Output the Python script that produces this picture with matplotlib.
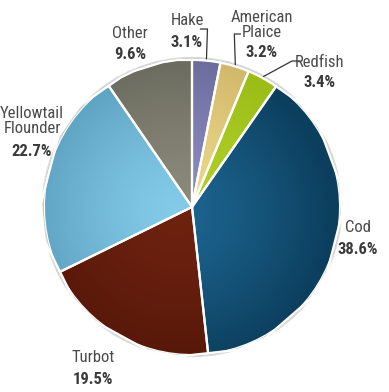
import numpy as np
import matplotlib
matplotlib.use("Agg")
import matplotlib.pyplot as plt
from matplotlib.colors import to_rgb
from matplotlib.patches import Circle

plt.rcParams['font.family'] = ['Roboto Condensed', 'DejaVu Sans']

# data, clockwise from 12 o'clock
species = ['Hake', 'American\nPlaice', 'Redfish', 'Cod', 'Turbot',
           'Yellowtail\nFlounder', 'Other']
shares = [3.1, 3.2, 3.4, 38.6, 19.5, 22.7, 9.6]

# gradient colours: (centre, edge)
inner_cols = ['#8e8ec4', '#eedb8e', '#b2d22a', '#1d6590', '#6e2210', '#84cbea', '#8c8b7d']
outer_cols = ['#6c6c9c', '#d2b86a', '#9cbc18', '#0c3f5e', '#551709', '#5b9fbe', '#6a6a5e']

# label layout in image pixels (x, y of name line, y of percent)
label_pos = {
    'Hake': (187, 20, 42),
    'American\nPlaice': (262, 25, 52),
    'Redfish': (320, 62, 82),
    'Cod': (358, 227, 249),
    'Turbot': (93, 358, 380),
    'Yellowtail\nFlounder': (32, 121, 151),
    'Other': (130, 33, 54),
}

W, H = 389, 392
cx, cy, R = 192, H - 207, 147

fig = plt.figure(figsize=(W / 100, H / 100), dpi=100)
ax = fig.add_axes([0, 0, 1, 1])

# soft shadow ring
ax.add_patch(Circle((cx, cy), R + 2.5, color='#dcdcdc', zorder=0))
ax.add_patch(Circle((cx, cy), R + 1.2, color='#c8c8c8', zorder=0))

wedges, _ = ax.pie(shares, startangle=90, counterclock=False, center=(cx, cy),
                   radius=R, colors=outer_cols,
                   wedgeprops=dict(edgecolor='white', linewidth=1.6))

# radial gradient in each wedge
n = 300
xs = np.linspace(cx - R, cx + R, n)
ys = np.linspace(cy - R, cy + R, n)
XX, YY = np.meshgrid(xs, ys)
gx, gy = cx - 15, cy - 5
t = np.clip(np.hypot(XX - gx, YY - gy) / (R * 1.05), 0, 1) ** 1.3
for w, ci, co in zip(wedges, inner_cols, outer_cols):
    a, b = np.array(to_rgb(ci)), np.array(to_rgb(co))
    img = a[None, None, :] * (1 - t[..., None]) + b[None, None, :] * t[..., None]
    im = ax.imshow(img, extent=(cx - R, cx + R, cy - R, cy + R), origin='lower',
                   zorder=w.get_zorder() + 0.1, interpolation='bilinear')
    im.set_clip_path(w)
    edge = plt.Polygon(w.get_path().vertices, closed=True, fill=False,
                       edgecolor='white', linewidth=1.6,
                       transform=w.get_transform(), zorder=w.get_zorder() + 0.2)
    ax.add_patch(edge)

# labels
for name, val in zip(species, shares):
    x, y1, y2 = label_pos[name]
    ax.text(x, H - y1, name, ha='center', va='center', fontsize=12,
            color='#4a4a4a', linespacing=0.95)
    ax.text(x, H - y2, f'{val:.1f}%', ha='center', va='center', fontsize=12,
            color='#3a3a3a', fontweight='bold')

# leader lines for the small slices
def edge_point(w, r=R + 2):
    ang = np.deg2rad((w.theta1 + w.theta2) / 2)
    return cx + r * np.cos(ang), cy + r * np.sin(ang)

px, py = edge_point(wedges[0])
ax.plot([px, px + 1, px - 6], [py, H - 29, H - 29], color='#333333', lw=0.9)
px, py = edge_point(wedges[1])
ax.plot([px, px - 1, px + 5], [py, H - 34, H - 34], color='#333333', lw=0.9)
px, py = edge_point(wedges[2])
ax.plot([px, 292, 300], [py, H - 61, H - 61], color='#333333', lw=0.9)

ax.set_xlim(0, W)
ax.set_ylim(0, H)
ax.set_aspect('equal')
ax.axis('off')

fig.savefig('out.png', dpi=100, facecolor='white')
